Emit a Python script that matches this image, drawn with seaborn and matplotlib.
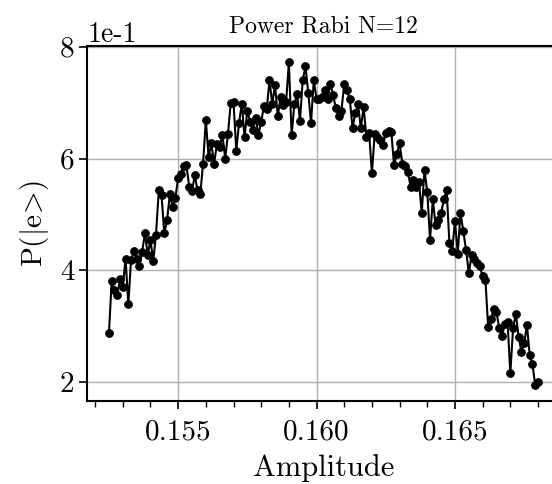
import numpy as np
import pandas as pd
import matplotlib
matplotlib.use("Agg")
import matplotlib.pyplot as plt
from matplotlib.ticker import AutoMinorLocator, ScalarFormatter
import seaborn as sns

# Amplitude sweep (step 1e-4)
amp_start = 0.1525
amp_step = 0.0001

# P(|e>) values
p_excited = [
    2.88, 3.81, 3.65, 3.55, 3.84, 3.70, 4.21, 3.39, 4.19, 4.34,
    4.21, 4.08, 4.33, 4.67, 4.27, 4.54, 4.17, 4.64, 5.43, 5.34,
    4.66, 4.90, 5.36, 5.13, 5.30, 5.65, 5.73, 5.86, 5.88, 5.49,
    5.42, 5.70, 5.43, 5.36, 5.91, 6.69, 6.03, 6.27, 5.91, 6.26,
    6.21, 6.42, 6.00, 6.44, 7.00, 7.01, 6.14, 6.64, 6.98, 6.38,
    6.86, 6.66, 6.51, 6.73, 6.42, 6.66, 6.94, 6.88, 7.40, 6.98,
    7.31, 6.76, 7.10, 6.95, 7.01, 7.72, 6.42, 6.98, 7.16, 6.67,
    7.40, 7.65, 7.18, 6.64, 7.40, 7.07, 7.07, 7.10, 7.22, 7.07,
    7.34, 7.13, 6.90, 6.76, 6.86, 7.34, 7.22, 7.07, 6.55, 6.81,
    6.97, 6.54, 6.92, 6.39, 6.45, 5.74, 6.44, 6.39, 6.33, 6.24,
    6.45, 6.49, 6.48, 5.88, 6.09, 6.27, 5.91, 5.86, 5.76, 5.49,
    5.61, 5.49, 5.58, 5.03, 5.80, 5.40, 4.55, 5.27, 4.81, 4.90,
    5.02, 5.27, 5.43, 4.48, 4.35, 4.88, 4.30, 5.03, 4.70, 4.37,
    3.95, 4.27, 4.21, 4.13, 4.07, 3.89, 3.83, 2.98, 3.13, 3.31,
    3.25, 2.96, 2.82, 3.03, 3.08, 2.16, 2.96, 3.22, 2.81, 2.54,
    2.69, 3.02, 2.48, 2.32, 1.94, 2.00,
]
p_scale = 0.1  # values above are in units of 1e-1

title_text = "Power Rabi N=12"
xlabel_text = "Amplitude"
ylabel_text = r"$\mathrm{P(|e}\!>\!\mathrm{)}$"
xticks = [0.155, 0.160, 0.165]
yticks = [0.2, 0.4, 0.6, 0.8]

amplitude = amp_start + amp_step * np.arange(len(p_excited))
df = pd.DataFrame({"Amplitude": amplitude,
                   "P": np.array(p_excited) * p_scale})

sns.set_style("ticks")
plt.rcParams["font.family"] = ["cmr10", "DejaVu Serif"]
plt.rcParams["mathtext.fontset"] = "cm"
plt.rcParams["axes.unicode_minus"] = False
plt.rcParams["axes.formatter.use_mathtext"] = False
plt.rcParams["text.color"] = "black"
plt.rcParams["axes.labelcolor"] = "black"

fig = plt.figure(figsize=(5.52, 4.84), dpi=100)
ax = fig.add_axes([0.1585, 0.1705, 0.855, 0.7338])

sns.lineplot(data=df, x="Amplitude", y="P", ax=ax, color="black",
             marker="o", markersize=5.5, markeredgecolor="black",
             linewidth=1.5, estimator=None, sort=False)

ax.set_xticks(xticks)
ax.set_yticks(yticks)
ax.xaxis.set_minor_locator(AutoMinorLocator(5))
ax.xaxis.set_major_formatter(plt.FormatStrFormatter("%.3f"))
fmt = ScalarFormatter(useMathText=False)
fmt.set_scientific(True)
fmt.set_powerlimits((0, 0))
ax.yaxis.set_major_formatter(fmt)

ax.grid(True, which="major", color="#b0b0b0", linewidth=1.0)
ax.set_axisbelow(True)
for s in ax.spines.values():
    s.set_color("black")
    s.set_linewidth(1.5)

ax.tick_params(axis="both", which="major", labelsize=21, length=6,
               width=1.2, color="black", labelcolor="black", direction="out")
ax.tick_params(axis="x", which="major", pad=7)
ax.tick_params(axis="x", which="minor", length=4, width=1.0, color="black")
ax.yaxis.get_offset_text().set_fontsize(20)
ax.yaxis.get_offset_text().set_color("black")

ax.set_title(title_text, fontsize=17, pad=10, color="black")
ax.set_xlabel(xlabel_text, fontsize=22, labelpad=6, color="black")
ax.set_ylabel(ylabel_text, fontsize=21, labelpad=6, color="black")

fig.savefig("out.png", dpi=100)
